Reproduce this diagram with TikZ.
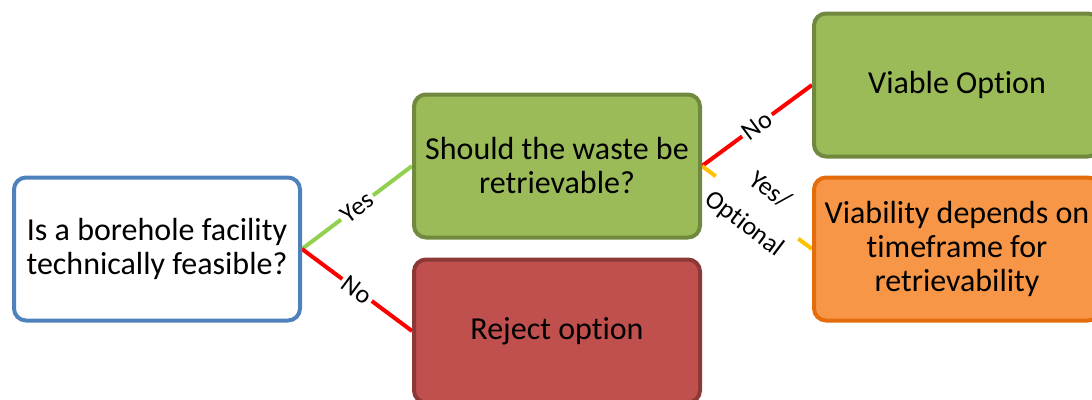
\documentclass[tikz,border=0pt]{standalone}
\usepackage{fontspec}
\setmainfont{Carlito}[Ligatures={NoCommon,NoContextual}]
\usetikzlibrary{backgrounds}
\definecolor{bblue}{HTML}{4F81BD}
\definecolor{gfill}{HTML}{9BBB59}
\definecolor{gdraw}{HTML}{71893F}
\definecolor{rfill}{HTML}{C0504D}
\definecolor{rdraw}{HTML}{8C3836}
\definecolor{ofill}{HTML}{F79646}
\definecolor{odraw}{HTML}{E46C0A}
\definecolor{lgreen}{HTML}{92D050}
\definecolor{lred}{HTML}{FF0000}
\definecolor{lyellow}{HTML}{FFC000}
\tikzset{
  box/.style={rectangle, rounded corners=12pt, line width=4pt, minimum width=286pt,
    minimum height=143pt, align=center, text=black, font=\fontsize{32}{34}\selectfont},
  conn/.style={line width=4pt},
  lbl/.style={sloped, fill=white, inner sep=3pt, font=\fontsize{26}{28}\selectfont, text=black}
}
\begin{document}
\begin{tikzpicture}[x=1pt,y=-1pt]
\useasboundingbox (0,0) rectangle (1092,399);
\clip (0,0) rectangle (1092,399);
\node[box, draw=bblue, fill=white] (b1) at (157,249) {Is a borehole facility\\technically feasible?};
\node[box, draw=gdraw, fill=gfill] (b2) at (557,166) {Should the waste be\\retrievable?};
\node[box, draw=rdraw, fill=rfill] (b3) at (557,331) {Reject option};
\node[box, draw=gdraw, fill=gfill] (b4) at (957,85) {Viable Option};
\node[box, draw=odraw, fill=ofill] (b5) at (957,249) {Viability depends on\\timeframe for\\retrievability};
\begin{scope}[on background layer]
\draw[conn, lgreen] (b1.east) -- node[lbl] {Yes} (b2.west);
\draw[conn, lred] (b1.east) -- node[lbl] {No} (b3.west);
\draw[conn, lred] (b2.east) -- node[lbl] {No} (b4.west);
\draw[conn, lyellow] (b2.east) -- node[lbl, align=center, inner sep=6pt, font=\fontsize{26}{42}\selectfont] {Yes/\\Optional} (b5.west);
\end{scope}
\end{tikzpicture}
\end{document}
